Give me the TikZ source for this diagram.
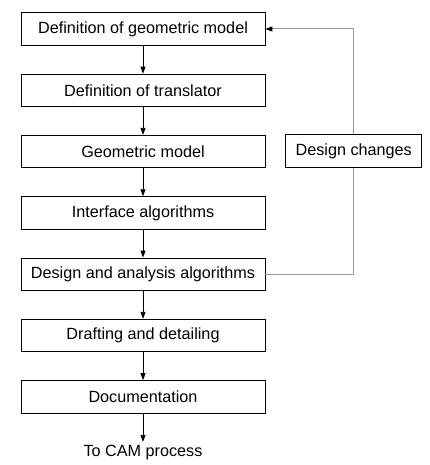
\documentclass[tikz,border=0pt]{standalone}
\usepackage{fontspec}
\setmainfont{Liberation Sans}
\usetikzlibrary{arrows.meta, positioning}

\begin{document}
\begin{tikzpicture}[x=1pt,y=-1pt,node distance=61.3pt,on grid,>={Triangle[length=7pt,width=5pt]},
      every node/.style={font=\fontsize{16.2}{19}\selectfont},
      blk/.style={draw,line width=0.8pt,minimum width=244pt,minimum height=32.5pt,inner sep=0pt},
      fb/.style={draw=black!40,line width=1pt}]
  \useasboundingbox (0,0) rectangle (429,465);
  \node[blk] (geodef) at (143,29) {Definition of geometric model};
  \node[blk] (trans)  [below=of geodef] {Definition of translator};
  \node[blk] (geom)   [below=of trans]  {Geometric model};
  \node[blk] (iface)  [below=of geom]   {Interface algorithms};
  \node[blk] (anal)   [below=of iface]  {Design and analysis algorithms};
  \node[blk] (draft)  [below=of anal]   {Drafting and detailing};
  \node[blk] (doc)    [below=of draft]  {Documentation};
  \node (cam) [below=56pt of doc] {To CAM process};
  \node[blk,minimum width=136pt] (chg) at (353.7,151) {Design changes};
  \foreach \a/\b in {geodef/trans, trans/geom, geom/iface, iface/anal, anal/draft, draft/doc, doc/cam}
    \draw[->,line width=0.8pt] (\a) -- (\b);
  % feedback loop
  \draw[fb] (chg.south) |- (anal.east);
  \draw[fb,-{Triangle[length=7pt,width=5pt,color=black]}] (chg.north) |- (geodef.east);
\end{tikzpicture}
\end{document}
